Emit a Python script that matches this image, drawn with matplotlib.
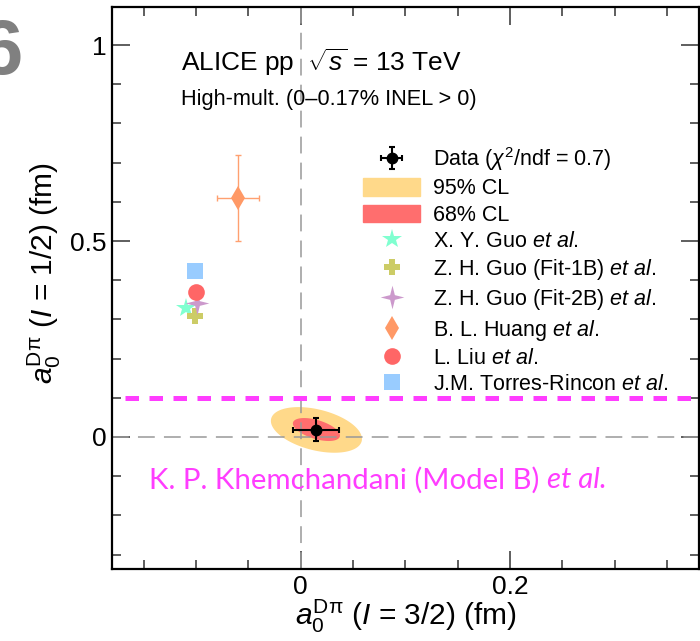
import numpy as np
import matplotlib
matplotlib.use('Agg')
import matplotlib.pyplot as plt
from matplotlib.patches import Patch
from matplotlib.ticker import MultipleLocator, FuncFormatter

plt.rcParams['font.family'] = 'Liberation Sans'
plt.rcParams['mathtext.fontset'] = 'custom'
plt.rcParams['mathtext.rm'] = 'Liberation Sans'
plt.rcParams['mathtext.it'] = 'Liberation Sans:italic'
plt.rcParams['mathtext.bf'] = 'Liberation Sans:bold'

# measured scattering lengths (fm): I=3/2 on x, I=1/2 on y
data_x, data_y = 0.015, 0.019
data_xerr, data_yerr = 0.022, 0.029

# confidence contours: centre, x half-width, y half-width, tilt
cl95 = dict(cx=0.015, cy=0.018, a=0.0435, b=0.0535, k=0.023)
cl68 = dict(cx=0.015, cy=0.019, a=0.0225, b=0.025, k=0.0153)

# theory predictions
theory_labels = ['X. Y. Guo', 'Z. H. Guo (Fit-1B)', 'Z. H. Guo (Fit-2B)',
                 'B. L. Huang', 'L. Liu', 'J.M. Torres-Rincon']
theory_x = [-0.110, -0.1008, -0.0989, -0.0597, -0.0998, -0.101]
theory_y = [0.330, 0.309, 0.341, 0.609, 0.371, 0.424]
star4 = [(0, 1), (0.2, 0.2), (1, 0), (0.2, -0.2), (0, -1), (-0.2, -0.2),
         (-1, 0), (-0.2, 0.2), (0, 1)]
theory_markers = ['*', 'P', star4, 'd', 'o', 's']
theory_colors = ['#80FFD0', '#CCCC66', '#CC99CC', '#FF9966', '#FF6666', '#99CCFF']
theory_sizes = [15, 12, 17, 12, 12, 11]
huang_xerr, huang_yerr = 0.020, 0.110

# K. P. Khemchandani (Model B) bound
khem_y = 0.1

fig = plt.figure(figsize=(7.0, 6.41), dpi=100)
ax = fig.add_axes([0.1604, 0.1123, 0.8375, 0.8772])
ax.set_xlim(-0.18, 0.38)
ax.set_ylim(-0.337, 1.098)

t = np.linspace(0, 2 * np.pi, 200)
for cl, col in [(cl95, '#FFD98A'), (cl68, '#FF6E6E')]:
    ex = cl['cx'] + cl['a'] * np.cos(t)
    ey = cl['cy'] + cl['b'] * np.sin(t) - cl['k'] * np.cos(t)
    ax.fill(ex, ey, color=col, lw=0, zorder=1)

ax.axvline(0, color='#999999', lw=1.1, ls=(0, (11, 6)), zorder=2)
ax.axhline(0, color='#999999', lw=1.1, ls=(0, (11, 6)), zorder=2)

ax.axhline(khem_y, xmin=0.0217, xmax=1.0, color='#FF3DFF', lw=3.6,
           ls=(0, (2.7, 2.1)), zorder=3)

# Huang error bars
ax.errorbar(theory_x[3], theory_y[3], xerr=huang_xerr, yerr=huang_yerr,
            fmt='none', ecolor='#FFA070', elinewidth=1.0, capsize=2.5, zorder=3)

handles = []
hdata = ax.errorbar(data_x, data_y, xerr=data_xerr, yerr=data_yerr, fmt='o',
                    color='black', ms=7.5, elinewidth=1.5, capsize=2.5,
                    capthick=1.5, zorder=6, label=r'Data ($\chi^2$/ndf = 0.7)')
handles.append(hdata)
handles.append(Patch(color='#FFD98A', label='95% CL'))
handles.append(Patch(color='#FF6E6E', label='68% CL'))
for i in range(len(theory_labels)):
    h, = ax.plot(theory_x[i], theory_y[i], ls='none', marker=theory_markers[i],
                 color=theory_colors[i], ms=theory_sizes[i], mew=0, zorder=5,
                 label=theory_labels[i] + r' $\it{et\ al.}$')
    handles.append(h)

leg = ax.legend(handles=handles, loc='upper left',
                bbox_to_anchor=(0.4277, 0.754), frameon=False, fontsize=15.5,
                borderpad=0, borderaxespad=0, handlelength=2.65,
                handleheight=0.88, handletextpad=0.6, labelspacing=0.24,
                numpoints=1)

ax.text(-0.1144, 0.934, r'ALICE pp  $\sqrt{s}$ = 13 TeV', fontsize=18.9)
ax.text(-0.1144, 0.847, 'High-mult. (0\u20130.17% INEL > 0)', fontsize=15.7)

t1 = ax.text(-0.1447, -0.131, 'K. P. Khemchandani (Model B) ', color='#FF3DFF',
             fontsize=21.2, family='Lato', va='baseline')
ax.annotate('et al.', xy=(1, 0), xycoords=t1, va='bottom', ha='left',
            color='#FF3DFF', fontsize=21.2, family='Lato', style='italic')

ax.set_xlabel(r'$a_0^{\mathrm{D\pi}}$ ($I$ = 3/2) (fm)', fontsize=21.5)
ax.set_ylabel(r'$a_0^{\mathrm{D\pi}}$ ($I$ = 1/2) (fm)', fontsize=21.5)
ax.xaxis.set_label_coords(0.501, -0.052)
ax.yaxis.set_label_coords(-0.084, 0.5255)

ax.xaxis.set_major_locator(MultipleLocator(0.2))
ax.xaxis.set_minor_locator(MultipleLocator(0.05))
ax.yaxis.set_major_locator(MultipleLocator(0.5))
ax.yaxis.set_minor_locator(MultipleLocator(0.1))
fmt = FuncFormatter(lambda v, p: '%g' % round(v, 3))
ax.xaxis.set_major_formatter(fmt)
ax.yaxis.set_major_formatter(fmt)
ax.tick_params(which='both', direction='in', top=True, right=True,
               labelsize=19, color='#333333', width=1.1)
ax.tick_params(which='major', length=13, pad=4)
ax.tick_params(which='minor', length=6.5)
for s in ax.spines.values():
    s.set_linewidth(1.6)

# cut-off panel letter from neighbouring figure
fig.text(-0.03, 0.885, '6', fontsize=56, color='#808080', weight='bold')

fig.savefig('out.png', dpi=100)
